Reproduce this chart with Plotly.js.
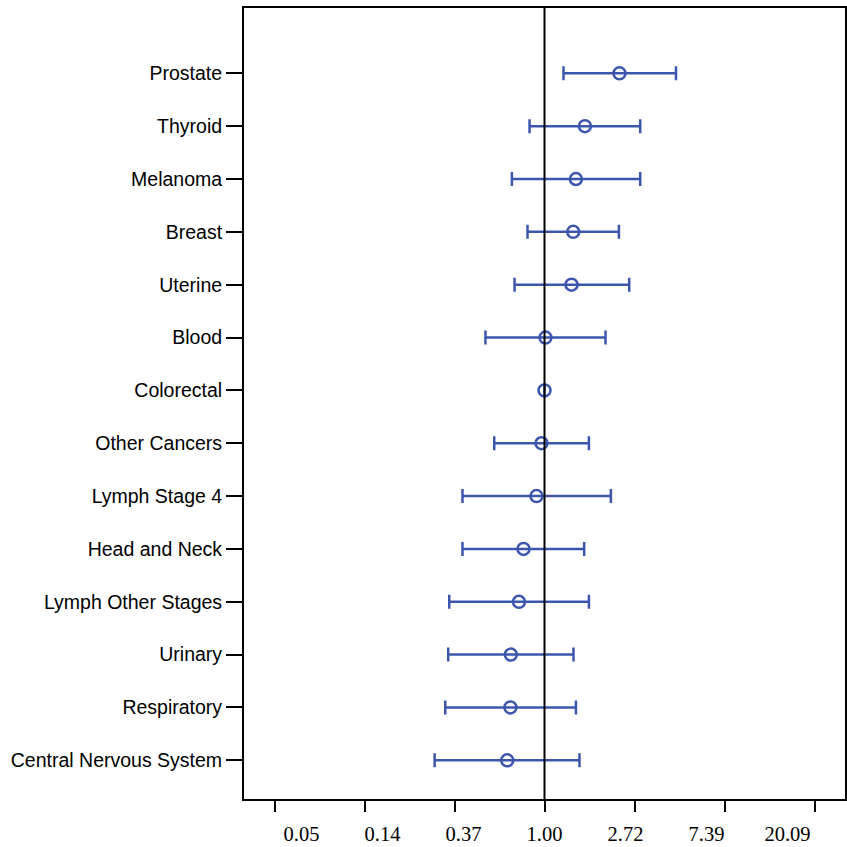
<!DOCTYPE html>
<html>
<head>
<meta charset="utf-8">
<script src="https://cdn.plot.ly/plotly-3.0.1.min.js"></script>
<style>html,body{margin:0;padding:0;background:#fff;}#chart{width:847px;height:847px;}</style>
</head>
<body>
<div id="chart"></div>
<script>
// Categories listed top to bottom
const categories = ["Prostate","Thyroid","Melanoma","Breast","Uterine","Blood","Colorectal","Other Cancers","Lymph Stage 4","Head and Neck","Lymph Other Stages","Urinary","Respiratory","Central Nervous System"];
const estimate = [2.30, 1.567, 1.418, 1.376, 1.35, 1.011, 1.0, 0.967, 0.915, 0.792, 0.753, 0.688, 0.685, 0.661];
const lowerCI  = [1.235, 0.847, 0.696, 0.828, 0.717, 0.519, 1.0, 0.572, 0.402, 0.402, 0.347, 0.343, 0.332, 0.295];
const upperCI  = [4.31, 2.896, 2.896, 2.286, 2.563, 1.97, 1.0, 1.638, 2.091, 1.554, 1.638, 1.38, 1.418, 1.475];
const tickValues = [Math.exp(-3), Math.exp(-2), Math.exp(-1), 1, Math.exp(1), Math.exp(2), Math.exp(3)];
const tickLabels = ["0.05","0.14","0.37","1.00","2.72","7.39","20.09"];

const blue = '#3D56AD';
const plusErr = upperCI.map((u,i)=>u-estimate[i]);
const minusErr = lowerCI.map((l,i)=>estimate[i]-l);

const trace = {
  type:'scatter', mode:'markers',
  x: estimate, y: categories,
  marker:{symbol:'circle-open', size:12, color:blue, line:{width:2.5, color:blue}},
  error_x:{type:'data', symmetric:false, array:plusErr, arrayminus:minusErr, color:blue, thickness:2.5, width:7},
  hoverinfo:'skip', showlegend:false
};
// invisible helper trace so the label axis is drawn
const labelTrace = {type:'scatter', mode:'markers', x:[1], y:[categories[6]], xaxis:'x2', yaxis:'y',
  marker:{size:1, opacity:0}, hoverinfo:'skip', showlegend:false};

const LN10 = Math.LN10;
const half = 300.5/90/LN10;
const halfLabels = 300.5/81/LN10;

const layout = {
  width:847, height:847,
  margin:{l:244, r:2, t:8, b:48},
  paper_bgcolor:'#fff', plot_bgcolor:'#fff',
  showlegend:false,
  xaxis:{
    type:'log', range:[-half, half],
    tickmode:'array', tickvals:tickValues, ticktext:tickLabels, showticklabels:false,
    ticks:'outside', ticklen:11, tickwidth:2, tickcolor:'#000',
    showline:true, mirror:true, linecolor:'#000', linewidth:2,
    showgrid:false, zeroline:false
  },
  xaxis2:{
    type:'log', range:[-halfLabels, halfLabels], overlaying:'x', anchor:'y', side:'bottom',
    tickmode:'array', tickvals:tickValues, ticktext:tickLabels,
    ticks:'', showline:false, showgrid:false, zeroline:false, ticklabelstandoff:20,
    tickfont:{family:'Liberation Serif, Times New Roman, serif', size:20.5, color:'#000'}
  },
  yaxis:{
    type:'category', categoryorder:'array', categoryarray:categories.slice().reverse(),
    range:[-0.732, 14.236],
    ticks:'outside', ticklen:16, tickwidth:2, tickcolor:'#000',
    showline:true, mirror:true, linecolor:'#000', linewidth:2,
    showgrid:false, zeroline:false,
    tickfont:{family:'Liberation Sans, Arial, sans-serif', size:19.5, color:'#000'}
  },
  shapes:[{type:'line', xref:'x', yref:'paper', x0:1, x1:1, y0:0, y1:1, line:{color:'#000', width:2}}]
};

Plotly.newPlot('chart',[trace, labelTrace],layout,{displayModeBar:false, staticPlot:true});
</script>
</body>
</html>
